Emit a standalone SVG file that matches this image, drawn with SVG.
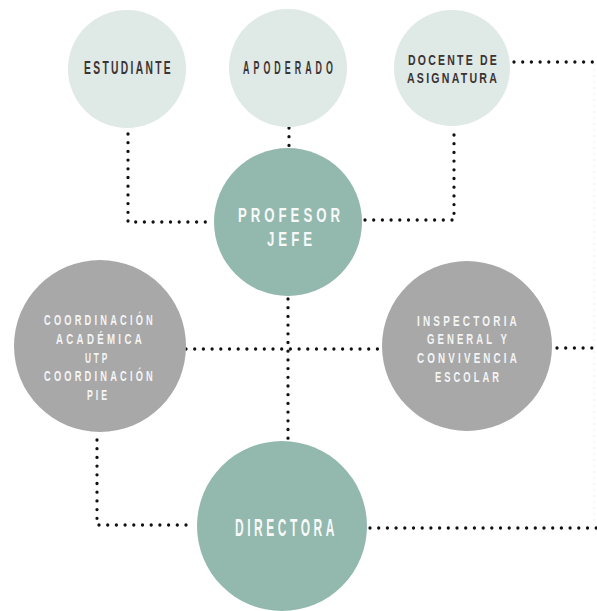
<svg xmlns="http://www.w3.org/2000/svg" width="597" height="611" viewBox="0 0 597 611">
  <style>
    .light { fill: #dfe9e6; }
    .teal { fill: #93b8ae; }
    .gray { fill: #a8a8a8; }
    .dots { fill: none; stroke: #111; stroke-width: 3.3; stroke-linecap: round; stroke-dasharray: 0 8.7; }
    .faint { fill: none; stroke: #ececec; stroke-width: 1.5; stroke-linecap: round; stroke-dasharray: 0 6; }
    text { font-family: "Liberation Sans", Arial, sans-serif; font-weight: bold; }
    .dark { fill: #3c3334; font-size: 17.5px; letter-spacing: 4px; }
    .dark2 { fill: #3c3334; font-size: 14.2px; letter-spacing: 3px; }
    .big { fill: #f7f9f8; font-size: 20px; letter-spacing: 6px; }
    .small { fill: #f4f4f4; font-size: 14.5px; letter-spacing: 5px; }
    .mid { fill: #f4f4f4; font-size: 15.5px; letter-spacing: 5px; }
  </style>
  <rect width="597" height="611" fill="#ffffff"/>

  <g id="connectors">
    <path class="faint" d="M594,64 V526"/>
    <path class="dots" d="M128,134 V222 H213"/>
    <path class="dots" d="M289,128 V147"/>
    <path class="dots" d="M454,135 V220 H365"/>
    <path class="dots" d="M514,62 H597"/>
    <path class="dots" d="M288,299 V440"/>
    <path class="dots" d="M186,349 H381"/>
    <path class="dots" d="M557,348 H597"/>
    <path class="dots" d="M97,440 V525 H186"/>
    <path class="dots" d="M370,528 H597"/>
  </g>

  <g id="estudiante">
    <circle class="light" cx="127" cy="69" r="59"/>
    <text class="dark" x="84" y="74" textLength="89" lengthAdjust="spacingAndGlyphs">ESTUDIANTE</text>
  </g>

  <g id="apoderado">
    <circle class="light" cx="288" cy="68" r="59"/>
    <text class="dark" x="0" y="0" transform="translate(243 73.5) scale(0.506 1)" style="letter-spacing:8px">APODERADO</text>
  </g>

  <g id="docente">
    <circle class="light" cx="452" cy="68" r="58"/>
    <text class="dark2" x="408" y="64.5" textLength="91" lengthAdjust="spacingAndGlyphs">DOCENTE DE</text>
    <text class="dark2" x="407" y="82.5" textLength="92" lengthAdjust="spacingAndGlyphs">ASIGNATURA</text>
  </g>

  <g id="profesor-jefe">
    <circle class="teal" cx="288" cy="222" r="74"/>
    <text class="big" x="238" y="222" textLength="106" lengthAdjust="spacingAndGlyphs">PROFESOR</text>
    <text class="big" x="267" y="245.5" textLength="49" lengthAdjust="spacingAndGlyphs">JEFE</text>
  </g>

  <g id="coordinacion">
    <circle class="gray" cx="100" cy="346" r="86"/>
    <text class="small" x="44" y="324.5" textLength="112" lengthAdjust="spacingAndGlyphs">COORDINACIÓN</text>
    <text class="small" x="56" y="343.5" textLength="89" lengthAdjust="spacingAndGlyphs">ACADÉMICA</text>
    <text class="small" x="85" y="362.5" textLength="25" lengthAdjust="spacingAndGlyphs">UTP</text>
    <text class="small" x="44" y="381" textLength="112" lengthAdjust="spacingAndGlyphs">COORDINACIÓN</text>
    <text class="small" x="87" y="399.5" textLength="23" lengthAdjust="spacingAndGlyphs">PIE</text>
  </g>

  <g id="inspectoria">
    <circle class="gray" cx="467" cy="346" r="85"/>
    <text class="mid" x="417" y="325.5" textLength="103" lengthAdjust="spacingAndGlyphs">INSPECTORIA</text>
    <text class="mid" x="427" y="343.5" textLength="83" lengthAdjust="spacingAndGlyphs">GENERAL Y</text>
    <text class="mid" x="417" y="362.5" textLength="103" lengthAdjust="spacingAndGlyphs">CONVIVENCIA</text>
    <text class="mid" x="435" y="381.5" textLength="67" lengthAdjust="spacingAndGlyphs">ESCOLAR</text>
  </g>

  <g id="directora">
    <circle class="teal" cx="282" cy="526" r="85"/>
    <text class="big" x="235" y="535.5" textLength="103" lengthAdjust="spacingAndGlyphs" style="font-size:23.5px;letter-spacing:7px">DIRECTORA</text>
  </g>
</svg>
